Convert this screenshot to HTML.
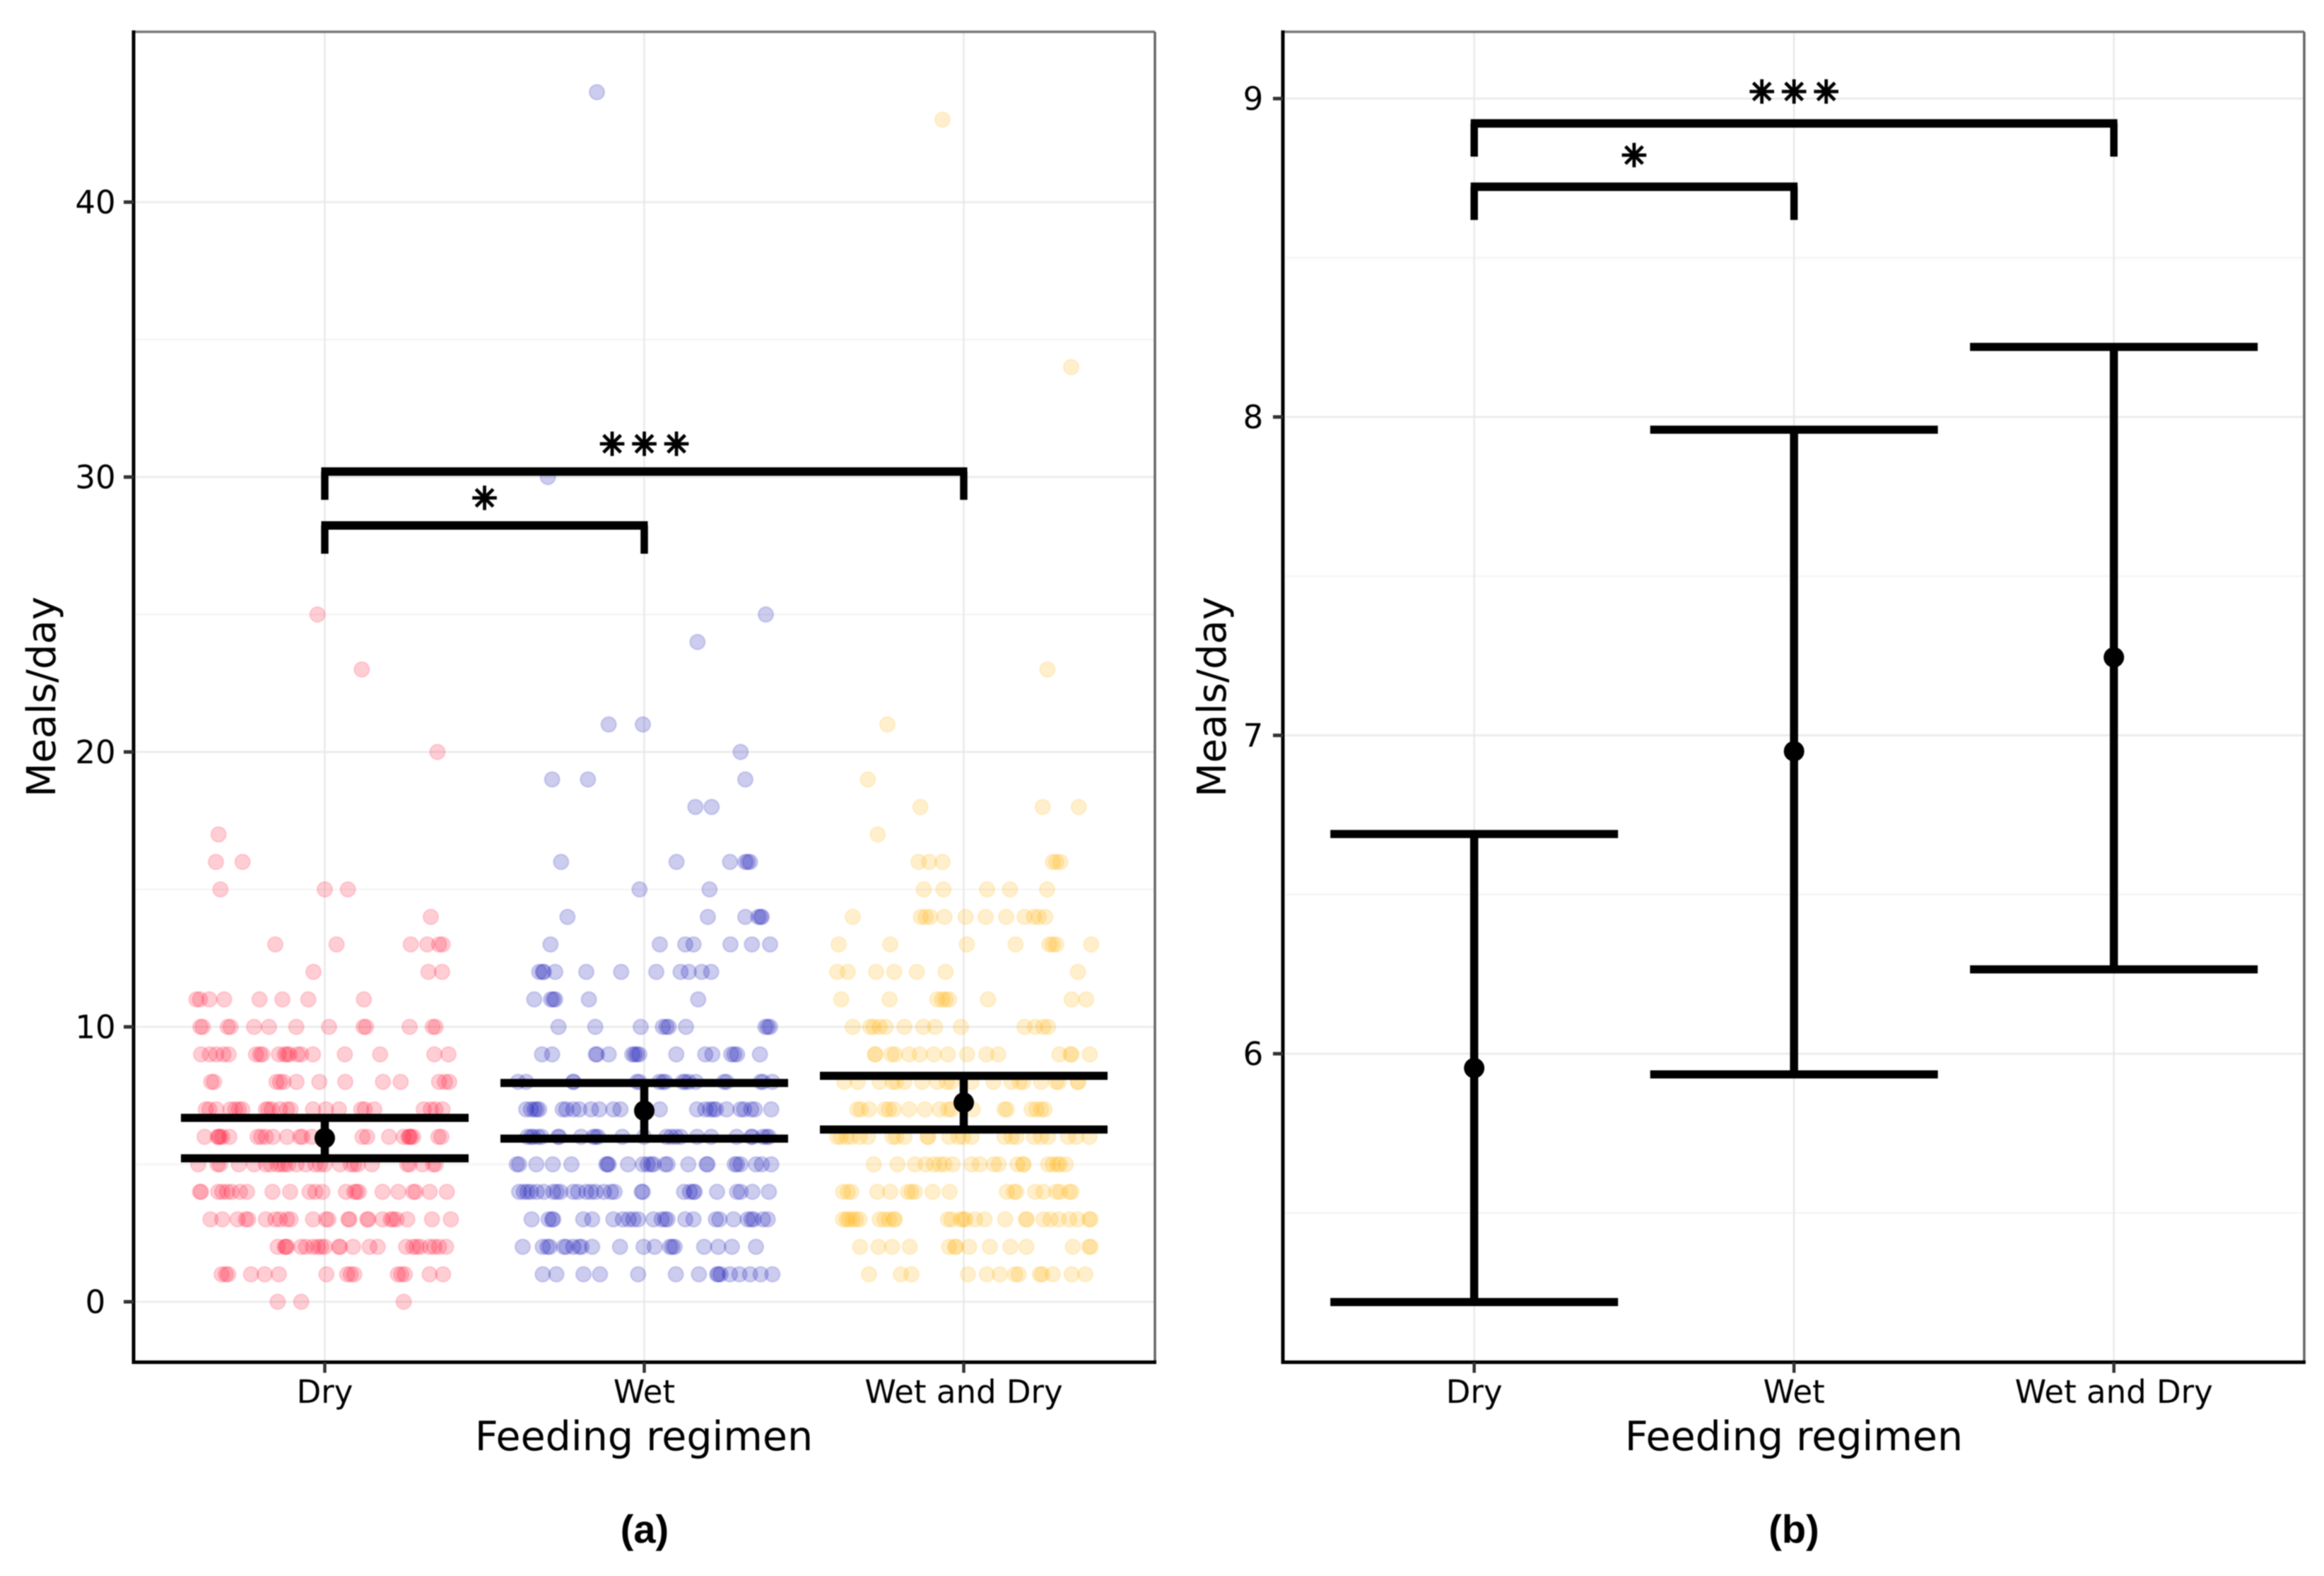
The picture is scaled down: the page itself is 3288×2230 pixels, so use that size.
<!DOCTYPE html>
<html lang="en">
<head>
<meta charset="utf-8">
<title>Meals per day by feeding regimen</title>
<style>
html,body{margin:0;padding:0;background:#fff;width:3288px;height:2230px;overflow:hidden}
svg{display:block;filter:blur(0.7px)}
text{font-family:"DejaVu Sans","Liberation Sans",sans-serif;fill:#000}
.bold{font-family:"Liberation Sans",sans-serif;font-weight:700}
</style>
</head>
<body>
<svg id="figure" xmlns="http://www.w3.org/2000/svg" width="3288" height="2230" viewBox="0 0 3288 2230">
  <rect width="3288" height="2230" fill="#fff"/>
  <g id="panel-a"></g>
  <g id="panel-b"></g>
  <text x="911" y="2052" font-size="57" text-anchor="middle">Feeding regimen</text>
  <text x="2538" y="2052" font-size="57" text-anchor="middle">Feeding regimen</text>
  <text transform="translate(78 986) rotate(-90)" font-size="56" text-anchor="middle">Meals/day</text>
  <text transform="translate(1734 986) rotate(-90)" font-size="56" text-anchor="middle">Meals/day</text>
  <text class="bold" x="912" y="2183" font-size="56" text-anchor="middle">(a)</text>
  <text class="bold" x="2538" y="2183" font-size="56" text-anchor="middle">(b)</text>
</svg>
<script>
const categories = ['Dry', 'Wet', 'Wet and Dry'];
const meanMeals = [5.955, 6.95, 7.245];
const ciLow = [5.22, 5.935, 6.265];
const ciHigh = [6.69, 7.96, 8.22];
const panelATicks = [0, 10, 20, 30, 40];
const panelAMinorTicks = [5, 15, 25, 35];
const panelBTicks = [6, 7, 8, 9];
const panelBMinorTicks = [5.5, 6.5, 7.5, 8.5];
const comparisons = [[0, 1, '*'], [0, 2, '***']];
const panelABracketLevels = [28.24, 30.2];
const panelBBracketLevels = [8.723, 8.922];

/* [meals/day, [horizontal jitter of each observation, in 1/1356ths of a category]] */
const dryRows = [
[25,[-31]],[23,[157]],[20,[478]],
[17,[-451]],[16,[-462,-349]],[15,[-443,0,98]],[14,[450]],
[13,[-210,50,365,435,485,500]],[12,[-48,440,498]],
[11,[-545,-530,-490,-427,-277,-180,-70,166]],
[10,[-528,-518,-412,-400,-300,-237,-121,18,165,175,360,458,470]],
[9,[-525,-488,-460,-430,-408,-292,-275,-265,-195,-170,-160,-150,-115,-100,-50,85,235,465,525]],
[8,[-482,-470,-205,-190,-175,-120,-23,87,247,322,485,510,528]],
[7,[-505,-490,-460,-400,-380,-365,-350,-250,-240,-225,-190,-160,-145,-50,5,60,155,170,210,420,450,470,500]],
[6,[-510,-455,-450,-445,-435,-405,-285,-270,-250,-220,-160,-105,-95,-55,160,180,273,335,355,360,365,375,482,495]],
[5,[-537,-455,-445,-365,-300,-250,-230,-200,-185,-170,-155,-120,-80,-40,-20,0,65,110,125,140,200,350,360,415,460,470]],
[4,[-530,-525,-452,-435,-415,-395,-360,-330,-222,-147,-65,-40,-10,90,125,135,145,245,312,375,385,445,518]],
[3,[-485,-435,-370,-335,-325,-250,-210,-190,-160,-145,-50,5,15,100,105,180,185,245,280,290,305,350,455,535]],
[2,[-200,-170,-165,-160,-100,-80,-50,-30,-15,0,60,65,120,190,225,345,375,390,405,445,465,485,515]],
[1,[-438,-420,-410,-313,-255,-195,7,95,110,125,310,325,340,445,502]],
[0,[-200,-100,335]]
];
const wetRows = [
[44,[-201]],[30,[-409]],[25,[516]],[24,[226]],[21,[-151,-6]],[20,[409]],
[19,[-391,-239,429]],[18,[217,286]],[16,[-353,137,364,429,439,449]],
[15,[-20,277]],[14,[-326,270,429,484,494,499]],
[13,[-398,66,174,209,366,457,534]],
[12,[-446,-431,-426,-378,-246,-98,51,154,189,244,284]],
[11,[-467,-396,-386,-378,-235,229]],
[10,[-364,-208,-15,79,94,104,177,514,524,534]],
[9,[-434,-391,-206,-201,-151,-51,-41,-31,-21,136,259,289,369,382,394,491]],
[8,[-536,-501,-301,-301,-31,-21,64,79,89,164,174,189,219,339,349,494,504,544]],
[7,[-501,-481,-466,-456,-446,-346,-331,-301,-276,-226,-191,-131,-101,66,224,259,279,294,304,349,409,424,454,469,539]],
[6,[-496,-481,-471,-451,-436,-366,-361,-268,-216,-206,-196,-93,-1,94,114,134,154,224,284,392,454,459,504,519,529]],
[5,[-541,-531,-458,-388,-309,-161,-156,-151,-69,-6,14,29,39,89,99,187,264,269,384,394,409,474,499,539]],
[4,[-531,-511,-496,-481,-456,-426,-386,-371,-356,-301,-281,-246,-226,-206,-171,-141,-126,-11,-6,169,194,209,214,309,394,409,459,529]],
[3,[-478,-406,-391,-386,-259,-221,-131,-91,-66,-46,-26,39,74,89,99,174,209,304,319,379,439,454,464,504,524]],
[2,[-516,-431,-411,-401,-341,-331,-301,-276,-266,-221,-103,-3,44,109,119,129,254,314,372,474]],
[1,[-431,-373,-258,-188,-26,134,232,309,314,324,364,404,449,494,544]]
];
const wetAndDryRows = [
[43,[-90]],[34,[456]],[23,[355]],[21,[-324]],
[19,[-407]],[18,[-184,335,488]],[17,[-365]],
[16,[-192,-147,-90,378,393,410]],[15,[-170,-86,99,196,354]],
[14,[-471,-182,-162,-142,-82,8,93,180,258,298,318,346]],
[13,[-531,-312,13,220,363,378,393,541]],
[12,[-537,-492,-372,-295,-199,-77,485]],
[11,[-520,-315,-112,-92,-77,-62,103,458,520]],
[10,[-471,-397,-382,-357,-332,-252,-172,-122,-12,258,303,338,358]],
[9,[-377,-375,-307,-292,-232,-187,-127,-67,14,96,146,406,453,458,535]],
[8,[-507,-450,-357,-302,-287,-252,-177,-112,-72,-52,33,126,203,238,253,328,393,403,485,485]],
[7,[-452,-437,-402,-334,-317,-297,-232,-165,-102,-67,-52,38,173,183,288,308,328,343]],
[6,[-537,-522,-497,-477,-442,-407,-302,-287,-252,-154,-150,-62,-22,-2,33,173,203,223,298,328,358,443,478,533]],
[5,[-382,-281,-207,-162,-127,-102,-82,-47,33,68,128,148,228,253,253,358,378,398,408,433]],
[4,[-512,-492,-477,-367,-312,-237,-222,-207,-132,-60,183,213,223,303,338,393,408,448,458]],
[3,[-512,-497,-487,-472,-457,-442,-357,-337,-317,-297,-292,-67,-52,-12,-2,8,48,88,176,263,268,338,368,403,448,483,533,538]],
[2,[-440,-362,-304,-229,-62,-37,-32,23,111,198,266,463,533,538]],
[1,[-402,-267,-222,18,98,153,218,233,323,333,378,458,516]]
];

const SVG_NS = 'http://www.w3.org/2000/svg';
function make(parent, tag, attrs, txt) {
  const el = document.createElementNS(SVG_NS, tag);
  for (const k in attrs) el.setAttribute(k, attrs[k]);
  if (txt !== undefined) el.textContent = txt;
  parent.appendChild(el);
  return el;
}

function axisFunctions(cfg) {
  return {
    x: function (c) { return cfg.x0 + c * cfg.xStep; },
    y: function (v) { return cfg.yRef - (v - cfg.vRef) * cfg.yUnit; }
  };
}

function drawFrame(g, cfg, ax, ticks, minorTicks) {
  minorTicks.forEach(function (t) {
    const el = make(g, 'line', {x1: cfg.left + 4, x2: cfg.right - 2, y1: ax.y(t), y2: ax.y(t), stroke: '#f6f6f6', 'stroke-width': 3});
    
    
  });
  ticks.forEach(function (t) {
    const el = make(g, 'line', {x1: cfg.left + 4, x2: cfg.right - 2, y1: ax.y(t), y2: ax.y(t), stroke: '#ececec', 'stroke-width': 3});
    
    
  });
  categories.forEach(function (c, i) {
    const el = make(g, 'line', {x1: ax.x(i), x2: ax.x(i), y1: cfg.top + 2, y2: cfg.bottom, stroke: '#e9e9e9', 'stroke-width': 2.5});
    
    
  });
}

function drawAxes(g, cfg, ax, ticks) {
  const top = make(g, 'line', {x1: cfg.left, x2: cfg.right, y1: cfg.top, y2: cfg.top, stroke: '#777', 'stroke-width': 3.5});
  
  
  const right = make(g, 'line', {x1: cfg.right, x2: cfg.right, y1: cfg.top, y2: cfg.bottom, stroke: '#666', 'stroke-width': 3.5});
  
  
  const left = make(g, 'line', {x1: cfg.left, x2: cfg.left, y1: cfg.top - 2, y2: cfg.bottom + 2.5, stroke: '#000', 'stroke-width': 5});
  
  
  const bottom = make(g, 'line', {x1: cfg.left - 2, x2: cfg.right + 2, y1: cfg.bottom, y2: cfg.bottom, stroke: '#000', 'stroke-width': 5});
  
  

  ticks.forEach(function (t) {
    const m = make(g, 'line', {x1: cfg.left - 14, x2: cfg.left, y1: ax.y(t), y2: ax.y(t), stroke: '#333', 'stroke-width': 5});
    
    
    const l = make(g, 'text', {x: cfg.tickLabelX, y: ax.y(t) + 16, 'font-size': 45, 'text-anchor': 'middle', fill: '#111'}, String(t));
    
    
  });
  categories.forEach(function (c, i) {
    const m = make(g, 'line', {x1: ax.x(i), x2: ax.x(i), y1: cfg.bottom, y2: cfg.bottom + 15, stroke: '#333', 'stroke-width': 4.5});
    
    
    const l = make(g, 'text', {x: ax.x(i), y: 1985, 'font-size': 45, 'text-anchor': 'middle', fill: '#111'}, c);
    
    
  });
}

function drawStrip(g, ax, catIndex, rows, colour) {
  rows.forEach(function (row) {
    row[1].forEach(function (j) {
      const p = make(g, 'circle', {
        cx: ax.x(catIndex + j / 1356), cy: ax.y(row[0]), r: 10.6,
        fill: colour, 'fill-opacity': 0.2, stroke: colour, 'stroke-opacity': 0.14, 'stroke-width': 2.2
      });
      
      
    });
  });
}

function drawErrorBars(g, ax) {
  categories.forEach(function (c, i) {
    const cx = ax.x(i);
    const stem = make(g, 'line', {x1: cx, x2: cx, y1: ax.y(ciHigh[i]), y2: ax.y(ciLow[i]), stroke: '#000', 'stroke-width': 11.5});
    
    
    const capHigh = make(g, 'line', {x1: cx - 203.5, x2: cx + 203.5, y1: ax.y(ciHigh[i]), y2: ax.y(ciHigh[i]), stroke: '#000', 'stroke-width': 11.5});
    
    
    const capLow = make(g, 'line', {x1: cx - 203.5, x2: cx + 203.5, y1: ax.y(ciLow[i]), y2: ax.y(ciLow[i]), stroke: '#000', 'stroke-width': 11.5});
    
    
    const mean = make(g, 'circle', {cx: cx, cy: ax.y(meanMeals[i]), r: 14.5, fill: '#000'});
    
    
  });
}

function drawBrackets(g, ax, levels, starDrop, tickLength) {
  comparisons.forEach(function (cmp, k) {
    const x1 = ax.x(cmp[0]), x2 = ax.x(cmp[1]), y = ax.y(levels[k]);
    const bar = make(g, 'line', {x1: x1 - 5, x2: x2 + 5, y1: y, y2: y, stroke: '#000', 'stroke-width': 12});
    
    
    [x1, x2].forEach(function (tx) {
      const tick = make(g, 'line', {x1: tx, x2: tx, y1: y, y2: y + tickLength, stroke: '#000', 'stroke-width': 10.5});
      
      
    });
    const n = cmp[2].length;
    for (let s = 0; s < n; s++) {
      const sx = (x1 + x2) / 2 + (s - (n - 1) / 2) * 45.5;
      const star = make(g, 'text', {x: sx, y: y - starDrop + 16, 'font-size': 44, 'text-anchor': 'middle', 'font-weight': 700, stroke: '#000', 'stroke-width': 2.6}, '\u2733');
      
      
    }
  });
}

const cfgA = {x0: 459.5, xStep: 452, yRef: 1842, vRef: 0, yUnit: 38.9, left: 189, right: 1634, top: 45, bottom: 1927.5, tickLabelX: 135};
const cfgB = {x0: 2085.7, xStep: 452.5, yRef: 139.5, vRef: 9, yUnit: 450.5, left: 1815, right: 3260, top: 45, bottom: 1927.5, tickLabelX: 1773};
const axA = axisFunctions(cfgA);
const axB = axisFunctions(cfgB);
const gA = document.getElementById('panel-a');
const gB = document.getElementById('panel-b');

drawFrame(gA, cfgA, axA, panelATicks, panelAMinorTicks);
drawStrip(gA, axA, 0, dryRows, '#ff0a2e');
drawStrip(gA, axA, 1, wetRows, '#0000b0');
drawStrip(gA, axA, 2, wetAndDryRows, '#ffb000');
drawErrorBars(gA, axA);
drawBrackets(gA, axA, panelABracketLevels, 39, 40);
drawAxes(gA, cfgA, axA, panelATicks);

drawFrame(gB, cfgB, axB, panelBTicks, panelBMinorTicks);
drawErrorBars(gB, axB);
drawBrackets(gB, axB, panelBBracketLevels, 45, 47);
drawAxes(gB, cfgB, axB, panelBTicks);
</script>
</body>
</html>
